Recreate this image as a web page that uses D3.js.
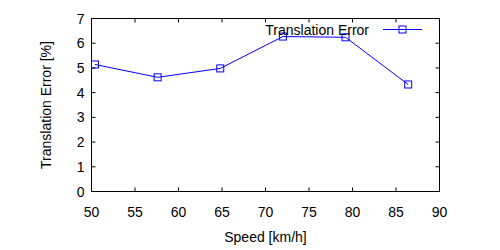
<!DOCTYPE html>
<html>
<head>
<meta charset="utf-8">
<script src="https://cdn.jsdelivr.net/npm/d3@7"></script>
<style>
  body { margin: 0; background: #fff; }
  text { font-family: "Liberation Sans", Arial, sans-serif; font-size: 14px; fill: #000; }
</style>
</head>
<body>
<div id="chart"></div>
<script>
// data
const speeds = [50.4, 57.6, 64.8, 72.0, 79.2, 86.4];
const errors = [5.14, 4.62, 4.98, 6.27, 6.24, 4.33];
const xTicks = [50, 55, 60, 65, 70, 75, 80, 85, 90];
const yTicks = [0, 1, 2, 3, 4, 5, 6, 7];
const seriesName = "Translation Error";

const width = 500, height = 250;
const margin = { left: 91.5, right: 60.5, top: 18.5, bottom: 58.5 };

const svg = d3.select("#chart").append("svg")
    .attr("width", width)
    .attr("height", height);

const x = d3.scaleLinear().domain([50, 90]).range([margin.left, width - margin.right]);
const y = d3.scaleLinear().domain([0, 7]).range([height - margin.bottom, margin.top]);

const tick = 4;

// frame
svg.append("rect")
    .attr("x", x(50)).attr("y", y(7))
    .attr("width", x(90) - x(50)).attr("height", y(0) - y(7))
    .attr("fill", "none").attr("stroke", "#000").attr("stroke-width", 1);

// ticks on all four sides (inward)
const g = svg.append("g");
xTicks.forEach(t => {
    g.append("line").attr("x1", x(t)).attr("x2", x(t))
        .attr("y1", y(0)).attr("y2", y(0) - tick).attr("stroke", "#000");
    g.append("line").attr("x1", x(t)).attr("x2", x(t))
        .attr("y1", y(7)).attr("y2", y(7) + tick).attr("stroke", "#000");
    g.append("text").attr("x", x(t)).attr("y", y(0) + 25)
        .attr("text-anchor", "middle").text(t);
});
yTicks.forEach(t => {
    g.append("line").attr("x1", x(50)).attr("x2", x(50) + tick)
        .attr("y1", y(t)).attr("y2", y(t)).attr("stroke", "#000");
    g.append("line").attr("x1", x(90)).attr("x2", x(90) - tick)
        .attr("y1", y(t)).attr("y2", y(t)).attr("stroke", "#000");
    g.append("text").attr("x", x(50) - 7).attr("y", y(t) + 5)
        .attr("text-anchor", "end").text(t);
});

// axis labels
svg.append("text")
    .attr("x", (x(50) + x(90)) / 2).attr("y", 242)
    .attr("text-anchor", "middle").text("Speed [km/h]");
svg.append("text")
    .attr("transform", `translate(51,${(y(0) + y(7)) / 2}) rotate(-90)`)
    .attr("text-anchor", "middle").text("Translation Error [%]");

// series
const pts = speeds.map((s, i) => [s, errors[i]]);
svg.append("path")
    .datum(pts)
    .attr("fill", "none").attr("stroke", "#0000ff").attr("stroke-width", 1)
    .attr("d", d3.line().x(d => x(d[0])).y(d => y(d[1])));

const sq = 7;
svg.selectAll("rect.pt").data(pts).enter().append("rect")
    .attr("class", "pt")
    .attr("x", d => x(d[0]) - sq / 2).attr("y", d => y(d[1]) - sq / 2)
    .attr("width", sq).attr("height", sq)
    .attr("fill", "none").attr("stroke", "#0000ff").attr("stroke-width", 1);

// legend
const ly = 29.5;
svg.append("text").attr("x", 369).attr("y", ly + 5)
    .attr("text-anchor", "end").text(seriesName);
svg.append("line").attr("x1", 383).attr("x2", 422)
    .attr("y1", ly).attr("y2", ly).attr("stroke", "#0000ff");
svg.append("rect").attr("x", 402.5 - sq / 2).attr("y", ly - sq / 2)
    .attr("width", sq).attr("height", sq)
    .attr("fill", "none").attr("stroke", "#0000ff");
</script>
</body>
</html>
